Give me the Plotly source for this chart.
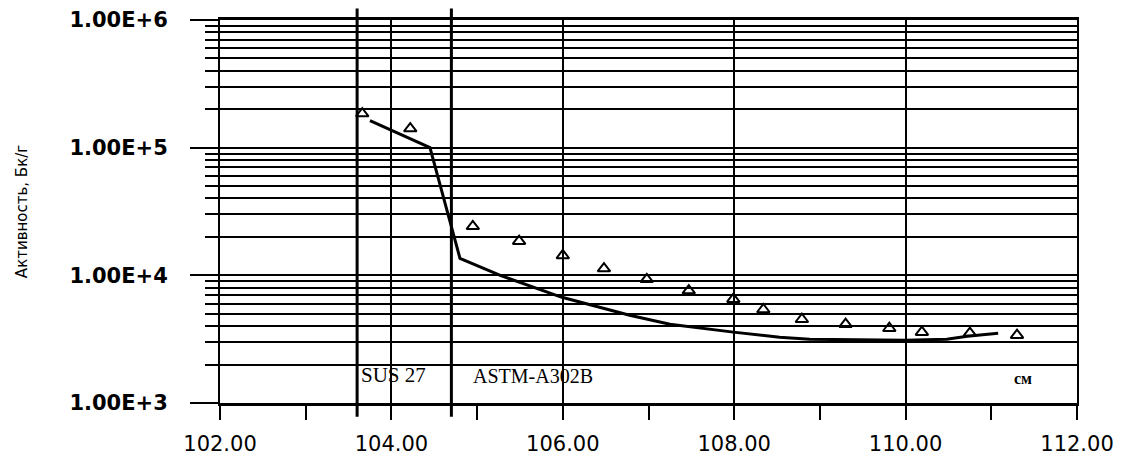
import plotly.graph_objects as go

# Measured points (triangles)
meas_x = [103.66, 104.22, 104.95, 105.49, 106.00, 106.48, 106.98, 107.47, 107.99,
          108.34, 108.79, 109.30, 109.81, 110.19, 110.75, 111.30]
meas_y = [1.85e5, 1.41e5, 2.42e4, 1.85e4, 1.43e4, 1.13e4, 9.3e3, 7.6e3, 6.5e3,
          5.4e3, 4.53e3, 4.14e3, 3.85e3, 3.59e3, 3.53e3, 3.40e3]

# Calculated curve
calc_x = [103.75, 104.45, 104.80, 105.27, 105.99, 106.78, 107.25, 107.99, 108.53,
          108.88, 110.00, 110.48, 110.72, 111.08]
calc_y = [1.63e5, 1.0e5, 1.36e4, 1.0e4, 6.73e3, 4.87e3, 4.14e3, 3.59e3, 3.28e3,
          3.16e3, 3.10e3, 3.16e3, 3.33e3, 3.52e3]

# Material boundaries and labels
boundaries = [103.6, 104.7]
region_labels = ["SUS 27", "ASTM-A302B", "<b>см</b>"]
region_label_x = [104.02, 105.65, 111.37]

y_major = [1e3, 1e4, 1e5, 1e6]
y_major_text = ["1.00E+3", "1.00E+4", "1.00E+5", "1.00E+6"]
y_minor = [m * 10 ** d for d in range(3, 6) for m in range(2, 10)]
x_major = [102, 104, 106, 108, 110, 112]
x_major_text = ["102.00", "104.00", "106.00", "108.00", "110.00", "112.00"]

fig = go.Figure()
fig.add_trace(go.Scatter(x=calc_x, y=calc_y, mode="lines",
                         line=dict(color="black", width=3), showlegend=False))
fig.add_trace(go.Scatter(x=meas_x, y=meas_y, mode="markers",
                         marker=dict(symbol="triangle-up-open", size=11, color="black",
                                     line=dict(width=2, color="black")),
                         showlegend=False))

for b in boundaries:
    fig.add_shape(type="line", xref="x", yref="paper", x0=b, x1=b, y0=-0.036, y1=1.03,
                  line=dict(color="black", width=3))

sizes = [21, 20, 16]
for t, x, s in zip(region_labels, region_label_x, sizes):
    fig.add_annotation(x=x, y=0.037, xref="x", yref="paper", text=t, showarrow=False,
                       font=dict(family="Liberation Serif", size=s, color="black"))

fig.update_layout(
    width=1110, height=450,
    margin=dict(l=212, r=41, t=12, b=55),
    paper_bgcolor="white", plot_bgcolor="white",
    xaxis=dict(range=[102, 112], tickvals=x_major, ticktext=x_major_text,
               automargin=False, ticklabeloverflow="allow",
               showgrid=True, gridcolor="black", gridwidth=2,
               ticks="outside", ticklen=14, tickwidth=2, tickcolor="black",
               minor=dict(dtick=1, ticks="outside", ticklen=14, tickwidth=2, tickcolor="black",
                          showgrid=False),
               showline=True, linecolor="black", linewidth=3, mirror=True,
               zeroline=False,
               tickfont=dict(family="DejaVu Sans", size=21, color="black"),
               ticklabelstandoff=6),
    yaxis=dict(type="log", range=[3, 6], tickvals=y_major, ticktext=y_major_text,
               automargin=False, ticklabeloverflow="allow",
               showgrid=True, gridcolor="black", gridwidth=2,
               ticks="outside", ticklen=28, tickwidth=2, tickcolor="black",
               minor=dict(tickvals=y_minor, ticks="outside", ticklen=13, tickwidth=2,
                          tickcolor="black", showgrid=True, gridcolor="black", gridwidth=2),
               showline=True, linecolor="black", linewidth=2, mirror=True,
               zeroline=False,
               tickfont=dict(family="DejaVu Sans", size=21, color="black", weight="bold"),
               ticklabelstandoff=18,
               title=dict(text="Активность, Бк/г", standoff=38,
                          font=dict(family="DejaVu Sans", size=15, color="black"))),
)

fig.write_html("out.html")
